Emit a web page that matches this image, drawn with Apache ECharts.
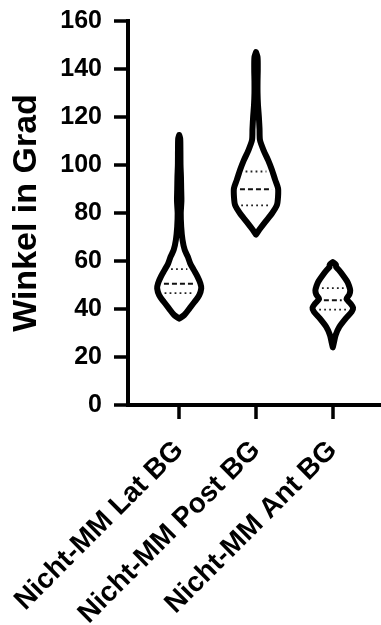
<!DOCTYPE html>
<html>
<head>
<meta charset="utf-8">
<script src="https://cdn.jsdelivr.net/npm/echarts@6/dist/echarts.min.js"></script>
<style>
  html, body { margin: 0; padding: 0; background: #fff; }
  #chart { width: 381px; height: 625px; }
</style>
</head>
<body>
<div id="chart"></div>
<script>
var categories = ['Nicht-MM Lat BG', 'Nicht-MM Post BG', 'Nicht-MM Ant BG'];

// violin outlines: [Winkel, relative density]
var latProfile = [
  [36, 0], [37.5, 0.23], [40.3, 0.47], [43, 0.7], [45.8, 0.91], [48.6, 1.0],
  [50.7, 0.96], [53.5, 0.83], [56.3, 0.66], [59, 0.5], [61.8, 0.39],
  [64.6, 0.25], [68.8, 0.15], [74.3, 0.09], [80, 0.07], [85, 0.1], [90, 0.09],
  [95, 0.08], [100, 0.06], [106, 0.055], [111, 0.045], [112.5, 0]
];
var postProfile = [
  [71, 0], [72.9, 0.14], [76.4, 0.43], [79.9, 0.73], [83.3, 0.95], [86.8, 1.0],
  [90.3, 1.0], [93.8, 0.87], [98, 0.72], [102, 0.55], [106, 0.35],
  [110.4, 0.18], [115, 0.16], [120, 0.13], [125, 0.09], [130, 0.07],
  [135, 0.07], [140, 0.08], [145, 0.07], [147, 0]
];
var antProfile = [
  [24, 0], [26, 0.05], [29.2, 0.13], [32.6, 0.3], [36.1, 0.59], [38.9, 0.86],
  [40.5, 0.92], [42.3, 0.8], [44.2, 0.62], [46, 0.75], [47.8, 0.79],
  [49.6, 0.74], [51.4, 0.66], [54.2, 0.45], [56.3, 0.27], [57.5, 0.15],
  [58.5, 0.14], [59.5, 0]
];

// [Q1, Median, Q3]
var latQuartiles = [46.6, 50.5, 56.6];
var postQuartiles = [83.2, 89.9, 97.3];
var antQuartiles = [39.7, 43.6, 48.7];

var profiles = [latProfile, postProfile, antProfile];
var quartiles = [latQuartiles, postQuartiles, antQuartiles];
var positions = [1, 2, 3];

var HALF = 0.287;
var FONT = '"Liberation Sans", Arial, Helvetica, sans-serif';

function densityAt(profile, v) {
  for (var k = 0; k < profile.length - 1; k++) {
    var a = profile[k], b = profile[k + 1];
    if (v >= a[0] && v <= b[0]) {
      var t = (v - a[0]) / (b[0] - a[0]);
      return a[1] + t * (b[1] - a[1]);
    }
  }
  return 0;
}

var chart = echarts.init(document.getElementById('chart'), null, { renderer: 'canvas' });

chart.setOption({
  animation: false,
  backgroundColor: '#fff',
  grid: { left: 128, top: 21, width: 256, height: 384, containLabel: false, outerBoundsMode: 'none' },
  xAxis: {
    type: 'value',
    min: 1 / 3,
    max: 11 / 3,
    axisLine: { show: true, lineStyle: { color: '#000', width: 4, cap: 'square' } },
    axisTick: { show: true, customValues: positions, length: 14, lineStyle: { color: '#000', width: 3.5 } },
    axisLabel: {
      customValues: positions,
      formatter: function(v) { return categories[Math.round(v) - 1] || ''; },
      rotate: 45,
      margin: 41,
      color: '#000',
      fontSize: 28,
      fontWeight: 'bold',
      fontFamily: FONT
    },
    splitLine: { show: false }
  },
  yAxis: {
    type: 'value',
    min: 0,
    max: 160,
    interval: 20,
    name: 'Winkel in Grad',
    nameLocation: 'middle',
    nameRotate: 90,
    nameGap: 84,
    nameTextStyle: { color: '#000', fontSize: 34, fontWeight: 'bold', fontFamily: FONT },
    axisLine: { show: true, lineStyle: { color: '#000', width: 4, cap: 'square' } },
    axisTick: { show: true, length: 14, lineStyle: { color: '#000', width: 3.5 } },
    axisLabel: { margin: 26, color: '#000', fontSize: 25, fontWeight: 'bold', fontFamily: FONT },
    splitLine: { show: false }
  },
  series: [{
    type: 'custom',
    data: positions.map(function(p, i) { return [p, quartiles[i][1]]; }),
    encode: { x: 0, y: 1 },
    clip: false,
    renderItem: function(params, api) {
      var i = params.dataIndex;
      var xc = positions[i];
      var prof = profiles[i];
      var left = prof.map(function(p) { return api.coord([xc - p[1] * HALF, p[0]]); });
      var right = prof.slice().reverse().map(function(p) { return api.coord([xc + p[1] * HALF, p[0]]); });
      var children = [{
        type: 'polygon',
        shape: { points: left.concat(right), smooth: 0.25 },
        style: { fill: '#fff', stroke: '#000', lineWidth: 6, lineJoin: 'round' }
      }];
      quartiles[i].forEach(function(q, k) {
        var c = api.coord([xc, q]);
        var hw = api.size([densityAt(prof, q) * HALF, 0])[0] - 6;
        children.push({
          type: 'line',
          shape: { x1: c[0] - hw, y1: c[1], x2: c[0] + hw, y2: c[1] },
          style: k === 1
            ? { stroke: '#111', lineWidth: 2, lineDash: [5, 3] }
            : { stroke: '#222', lineWidth: 1.8, lineDash: [1.8, 3.2] }
        });
      });
      return { type: 'group', children: children };
    }
  }]
});
</script>
</body>
</html>
